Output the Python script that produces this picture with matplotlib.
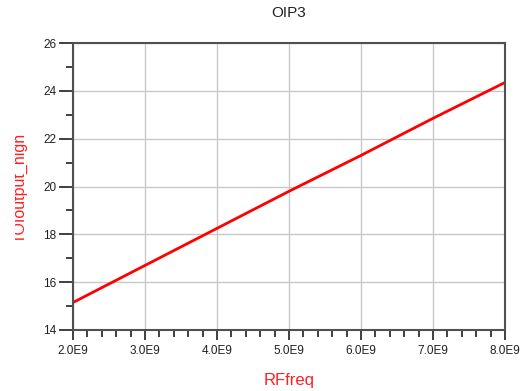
import numpy as np
import matplotlib
matplotlib.use("Agg")
import matplotlib.pyplot as plt
from matplotlib.ticker import MultipleLocator, FuncFormatter
from matplotlib.transforms import Bbox

# values
rf_freq = [2.0e9, 3.0e9, 4.0e9, 5.0e9, 6.0e9, 7.0e9, 8.0e9]
toi_out = [15.15, 16.70, 18.25, 19.80, 21.30, 22.85, 24.35]

plt.rcParams["font.family"] = ["Liberation Sans", "DejaVu Sans"]

fig = plt.figure(figsize=(5.27, 3.91), dpi=100)
ax = fig.add_axes([73 / 527, 1 - 330 / 391, (505 - 73) / 527, (330 - 43) / 391])

ax.plot(rf_freq, toi_out, color="#ff0000", lw=2, solid_capstyle="butt")

ax.set_xlim(2.0e9, 8.0e9)
ax.set_ylim(14, 26)
ax.xaxis.set_major_locator(MultipleLocator(1.0e9))
ax.xaxis.set_minor_locator(MultipleLocator(0.2e9))
ax.yaxis.set_major_locator(MultipleLocator(2))
ax.yaxis.set_minor_locator(MultipleLocator(1))
ax.xaxis.set_major_formatter(FuncFormatter(lambda v, p: "%.1fE9" % (v / 1e9)))

ax.grid(True, which="major", color="#c8c8c8", lw=1)
ax.set_axisbelow(True)
for s in ax.spines.values():
    s.set_color("#505050")
    s.set_linewidth(1.5)

ax.tick_params(axis="both", which="major", labelsize=8.5, color="#202020",
               labelcolor="#202020", width=1.2)
ax.tick_params(axis="y", which="major", length=10, pad=2)
ax.tick_params(axis="y", which="minor", length=5, width=1.2, color="#202020")
ax.tick_params(axis="x", which="major", length=7, pad=4)
ax.tick_params(axis="x", which="minor", length=5, width=1.2, color="#202020")

fig.text(289 / 527, 1 - 13 / 391, "OIP3", ha="center", va="center",
         fontsize=11, color="#202020")
fig.text(289 / 527, 1 - 381 / 391, "RFfreq", ha="center", va="center",
         fontsize=12, color="#ff2020")

# y label is cut off at the left in the reference
yl = fig.text(20 / 527, 1 - 188 / 391, "TOIoutput_high", rotation=90,
              ha="center", va="center", fontsize=11.5, color="#ff2020")
yl.set_clip_box(Bbox.from_extents(15, 0, 527, 391))
yl.set_clip_on(True)

fig.savefig("out.png", dpi=100, facecolor="white")
